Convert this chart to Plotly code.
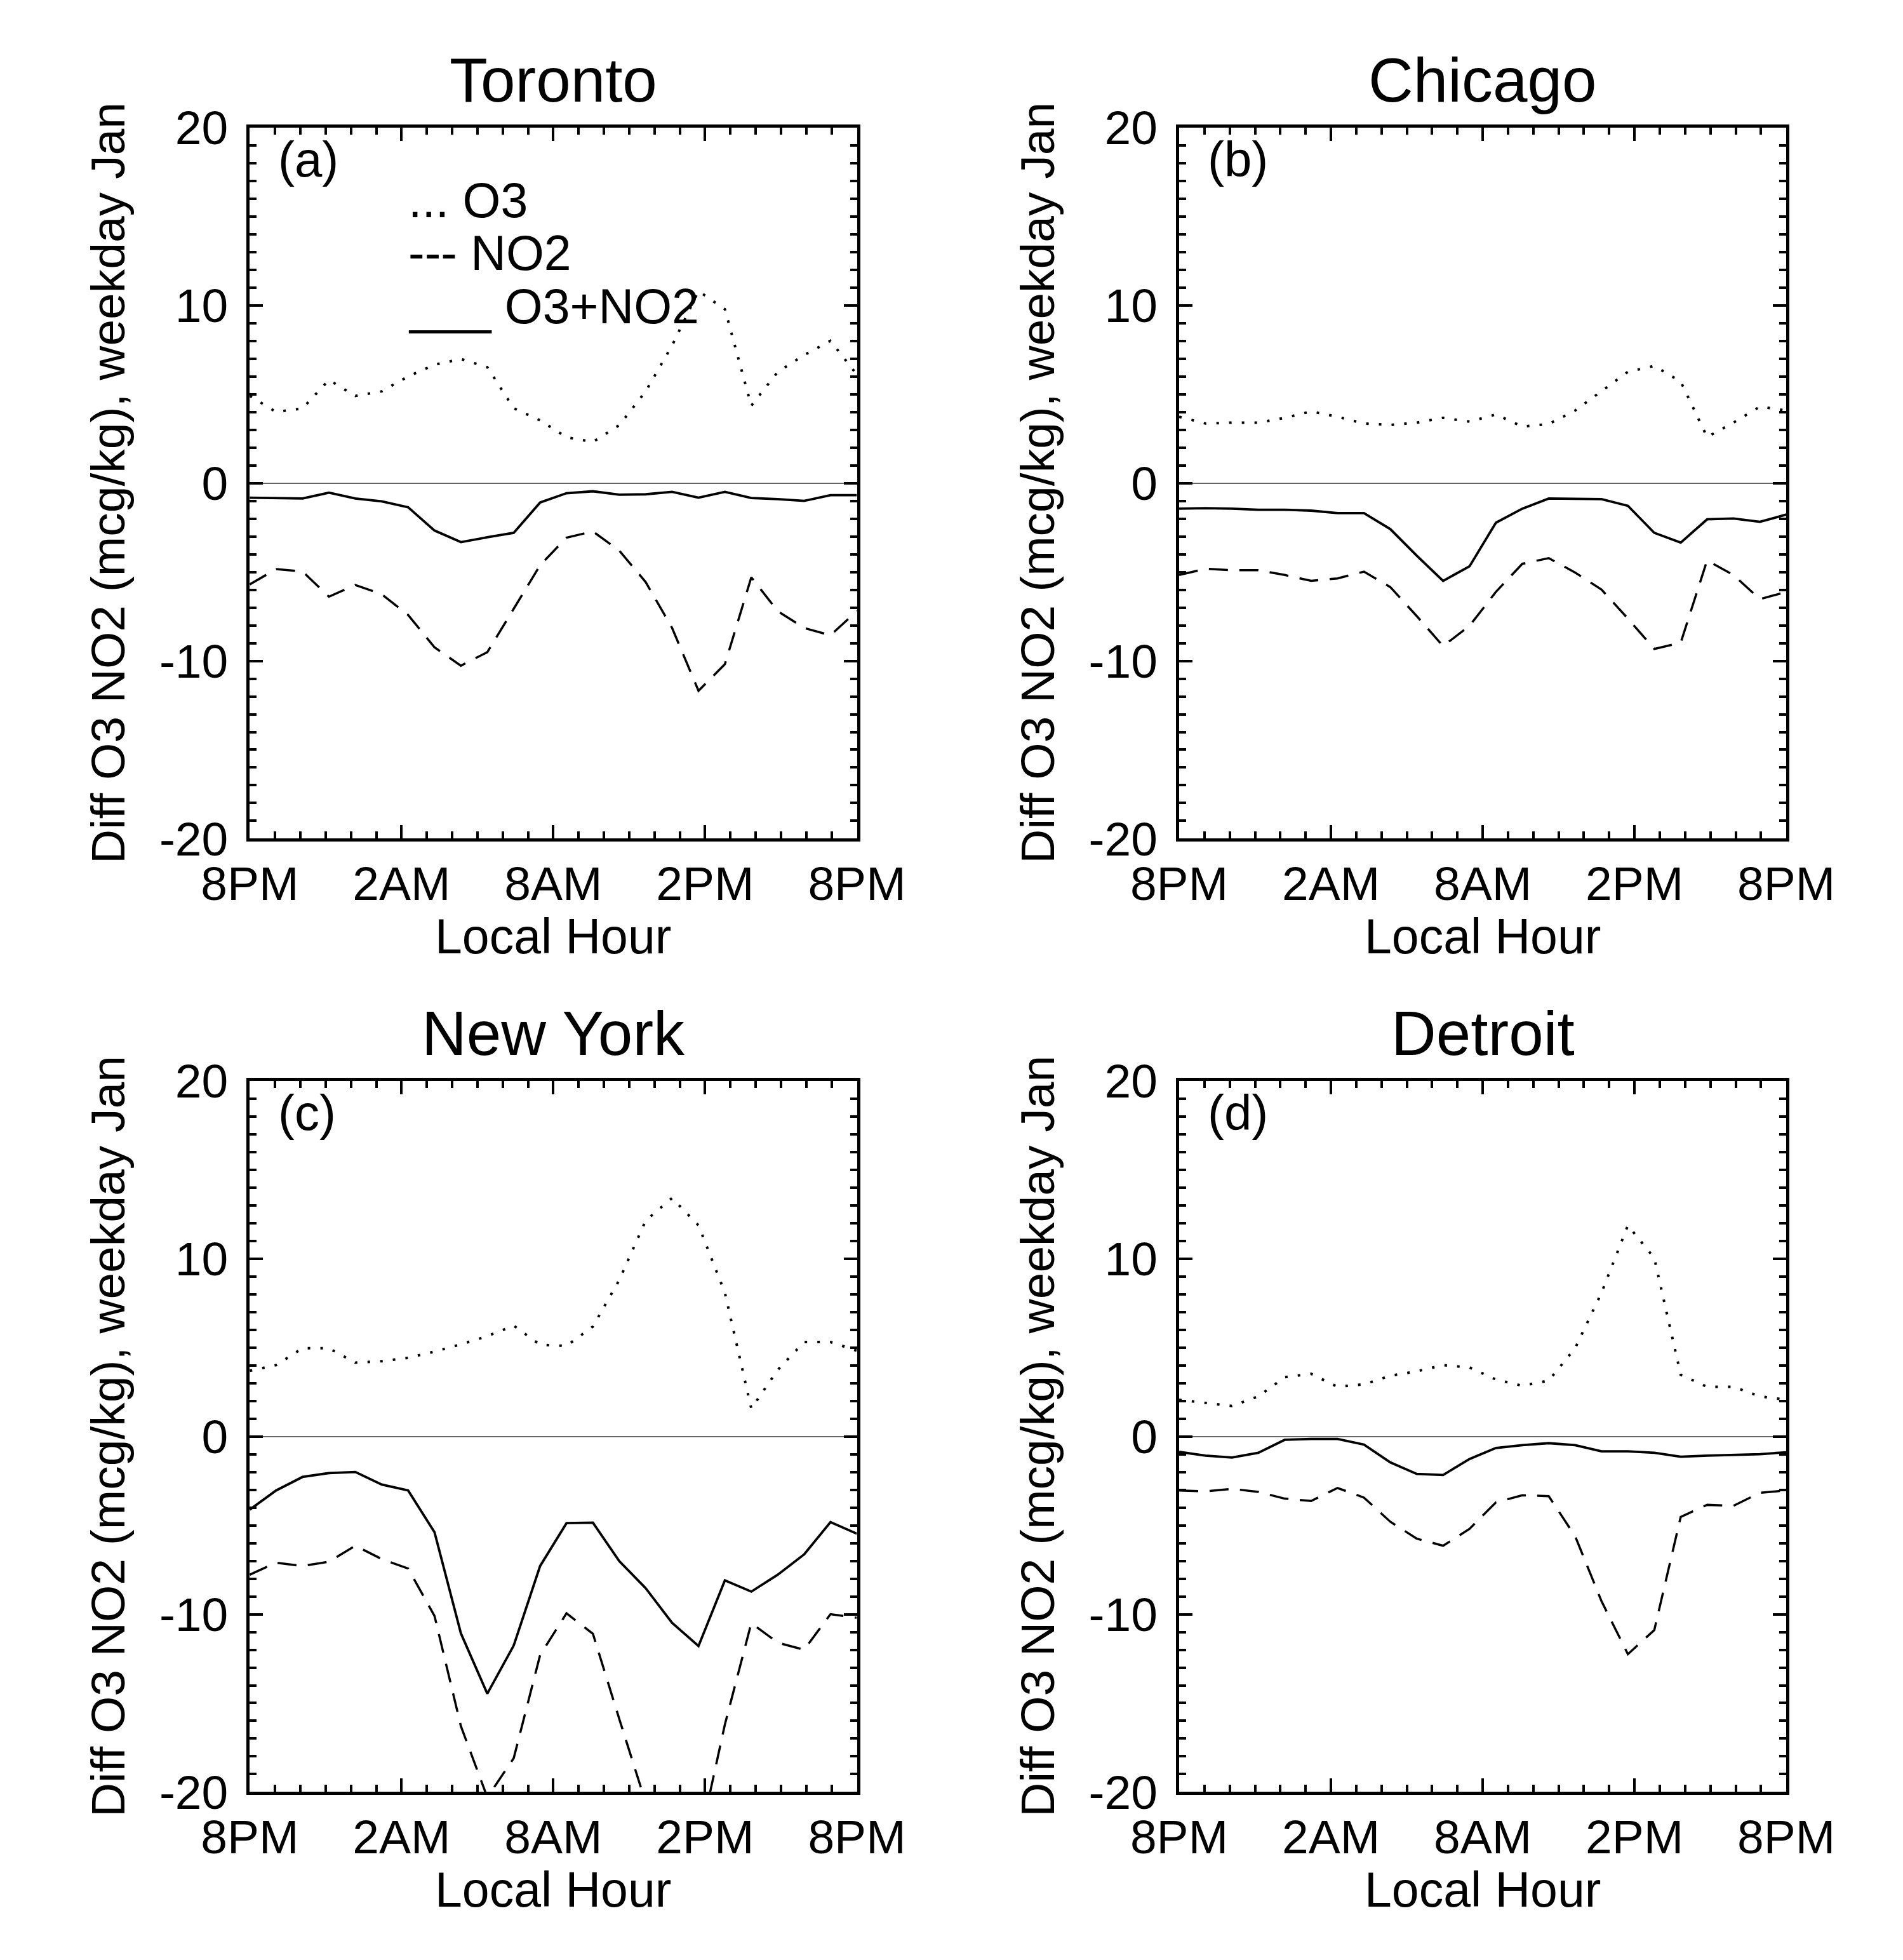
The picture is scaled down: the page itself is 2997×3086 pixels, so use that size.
import plotly.graph_objects as go

# ---------------- data ----------------
cities = ["Toronto", "Chicago", "New York", "Detroit"]
panel_labels = ["(a)", "(b)", "(c)", "(d)"]
hour_tick_labels = ["8PM", "2AM", "8AM", "2PM", "8PM"]
hour_index = [0, 1, 2, 3, 4, 5, 6, 7, 8, 9, 10, 11, 12, 13, 14, 15, 16, 17, 18, 19, 20, 21, 22, 23]

toronto_o3 = [4.9, 4.0, 4.2, 5.8, 4.9, 5.16, 6.0, 6.66, 6.98, 6.52, 4.21, 3.53,
              2.58, 2.31, 3.26, 5.16, 7.74, 10.8, 9.78, 4.35, 6.25, 7.2, 8.0, 6.1]
toronto_no2 = [-5.7, -4.84, -4.97, -6.39, -5.73, -6.25, -7.42, -9.24, -10.27, -9.51, -7.07, -4.62,
               -3.07, -2.72, -3.8, -5.57, -8.15, -11.68, -10.19, -5.3, -7.2, -8.15, -8.56, -7.2]
toronto_sum = [-0.82, -0.84, -0.87, -0.54, -0.87, -1.03, -1.36, -2.67, -3.32, -3.05, -2.8, -1.09,
               -0.57, -0.46, -0.65, -0.63, -0.49, -0.82, -0.49, -0.84, -0.9, -1.0, -0.68, -0.68]

chicago_o3 = [3.73, 3.35, 3.4, 3.4, 3.67, 4.03, 3.73, 3.35, 3.27, 3.4, 3.67, 3.46,
              3.86, 3.18, 3.32, 4.08, 5.17, 6.26, 6.59, 5.71, 2.59, 3.4, 4.3, 4.08]
chicago_no2 = [-5.17, -4.82, -4.9, -4.9, -5.17, -5.5, -5.36, -4.98, -5.85, -7.48, -9.17, -8.03,
               -6.12, -4.54, -4.22, -5.03, -5.99, -7.62, -9.33, -8.98, -4.35, -5.17, -6.53, -6.12]
chicago_sum = [-1.44, -1.41, -1.44, -1.5, -1.5, -1.55, -1.69, -1.69, -2.59, -4.08, -5.5, -4.68,
               -2.23, -1.44, -0.87, -0.9, -0.9, -1.28, -2.8, -3.35, -2.04, -1.99, -2.18, -1.77]

newyork_o3 = [3.69, 4.01, 4.96, 4.96, 4.15, 4.23, 4.42, 4.77, 5.18, 5.64, 6.23, 5.15,
              5.09, 6.18, 8.8, 12.14, 13.41, 11.87, 8.08, 1.57, 3.74, 5.31, 5.31, 4.82]
newyork_no2 = [-7.78, -7.1, -7.29, -7.05, -6.15, -6.9, -7.43, -10.1, -16.3, -20.3, -18.1, -12.3,
               -9.95, -11.1, -15.9, -20.6, -23.9, -23.0, -16.2, -10.5, -11.6, -12.0, -10.0, -10.2]
newyork_sum = [-4.12, -3.04, -2.28, -2.06, -2.0, -2.71, -3.04, -5.39, -11.08, -14.47, -11.76, -7.29,
               -4.88, -4.85, -7.02, -8.54, -10.49, -11.79, -8.1, -8.73, -7.78, -6.64, -4.82, -5.47]

detroit_o3 = [2.06, 1.9, 1.71, 2.25, 3.33, 3.52, 2.79, 2.93, 3.41, 3.66, 4.01, 3.88,
              3.2, 2.85, 3.14, 4.96, 8.08, 11.87, 10.03, 3.47, 2.79, 2.79, 2.25, 2.06]
detroit_no2 = [-3.04, -3.09, -2.95, -3.12, -3.5, -3.63, -2.9, -3.44, -4.8, -5.75, -6.15, -5.2,
               -3.71, -3.31, -3.36, -5.61, -9.27, -12.25, -10.89, -4.53, -3.85, -3.9, -3.17, -3.04]
detroit_sum = [-0.87, -1.08, -1.19, -0.92, -0.19, -0.14, -0.14, -0.46, -1.46, -2.11, -2.17, -1.27,
               -0.65, -0.49, -0.38, -0.49, -0.84, -0.84, -0.92, -1.14, -1.08, -1.03, -1.0, -0.89]

series_o3 = [toronto_o3, chicago_o3, newyork_o3, detroit_o3]
series_no2 = [toronto_no2, chicago_no2, newyork_no2, detroit_no2]
series_sum = [toronto_sum, chicago_sum, newyork_sum, detroit_sum]

y_title = "Diff O3 NO2 (mcg/kg), weekday Jan"
x_title = "Local Hour"

# ---------------- layout geometry (pixels) ----------------
W, H = 2997, 3086
FONT = "Liberation Sans, Arial, Helvetica, sans-serif"
AX_LEFT = [325, 1868]
AX_W = 1008
AX_TOP = [155, 1698]
AX_H = 1151


def px(x):
    return x / W


def py(y):
    return 1 - y / H


fig = go.Figure()
annotations = []

for i, city in enumerate(cities):
    col, row = i % 2, i // 2
    n = "" if i == 0 else str(i + 1)
    xa, ya = "x" + n, "y" + n
    left, top = AX_LEFT[col], AX_TOP[row]
    right, bottom = left + AX_W, top + AX_H

    fig.add_trace(go.Scatter(x=hour_index, y=series_o3[i], mode="lines", xaxis=xa, yaxis=ya,
                             line=dict(color="black", width=4, dash="4px,16px"), showlegend=False))
    fig.add_trace(go.Scatter(x=hour_index, y=series_no2[i], mode="lines", xaxis=xa, yaxis=ya,
                             line=dict(color="black", width=3.5, dash="30px,18px"), showlegend=False))
    fig.add_trace(go.Scatter(x=hour_index, y=series_sum[i], mode="lines", xaxis=xa, yaxis=ya,
                             line=dict(color="black", width=3.8), showlegend=False))

    common = dict(ticks="inside", tickwidth=4, tickcolor="black", showline=True, linewidth=5,
                  linecolor="black", mirror="allticks", showgrid=False,
                  tickfont=dict(family=FONT, size=75, color="black"))
    fig.layout["xaxis" + n] = dict(
        domain=[px(left), px(right)], anchor=ya, range=[0, 23],
        tickvals=[0, 5.75, 11.5, 17.25, 23], ticktext=hour_tick_labels,
        ticklen=21, zeroline=False, ticklabelstandoff=2,
        minor=dict(ticks="inside", ticklen=11, tickwidth=4, tickcolor="black",
                   tick0=0, dtick=23 / 24, showgrid=False),
        **common)
    fig.layout["yaxis" + n] = dict(
        domain=[py(bottom), py(top)], anchor=xa, range=[-20, 20],
        tickvals=[-20, -10, 0, 10, 20], ticktext=["-20", "-10", "0", "10", "20"],
        ticklen=21, zeroline=True, zerolinecolor="#666666", zerolinewidth=1.5,
        ticklabelstandoff=14,
        minor=dict(ticks="inside", ticklen=11, tickwidth=4, tickcolor="black",
                   tick0=0, dtick=1, showgrid=False),
        **common)

    cx = left + AX_W / 2
    # subplot title
    annotations.append(dict(text=city, x=px(cx), y=py(top - 18), xref="paper", yref="paper",
                            xanchor="center", yanchor="bottom", showarrow=False,
                            font=dict(family=FONT, size=98, color="black")))
    # x axis title
    annotations.append(dict(text=x_title, x=px(cx), y=py(bottom + 112), xref="paper", yref="paper",
                            xanchor="center", yanchor="top", showarrow=False,
                            font=dict(family=FONT, size=77, color="black")))
    # y axis title
    annotations.append(dict(text=y_title, x=px(left - 236), y=py(top + AX_H / 2), xref="paper",
                            yref="paper", xanchor="center", yanchor="middle", textangle=-90,
                            showarrow=False, font=dict(family=FONT, size=75, color="black")))
    # panel label
    annotations.append(dict(text=panel_labels[i], x=px(left + 45), y=py(top + 4), xref="paper",
                            yref="paper", xanchor="left", yanchor="top", showarrow=False,
                            font=dict(family=FONT, size=78, color="black")))

# text legend in panel (a)
legend_lines = ["... O3", "--- NO2", "___ O3+NO2"]
legend_tops = [226, 311, 398]
for txt, ytop in zip(legend_lines, legend_tops):
    annotations.append(dict(text=txt, x=px(586), y=py(ytop), xref="paper", yref="paper",
                            xanchor="left", yanchor="top", showarrow=False,
                            font=dict(family=FONT, size=77, color="black")))

fig.update_layout(width=W, height=H, margin=dict(l=0, r=0, t=0, b=0),
                  paper_bgcolor="white", plot_bgcolor="white",
                  annotations=annotations, showlegend=False)

fig.write_html("out.html")
